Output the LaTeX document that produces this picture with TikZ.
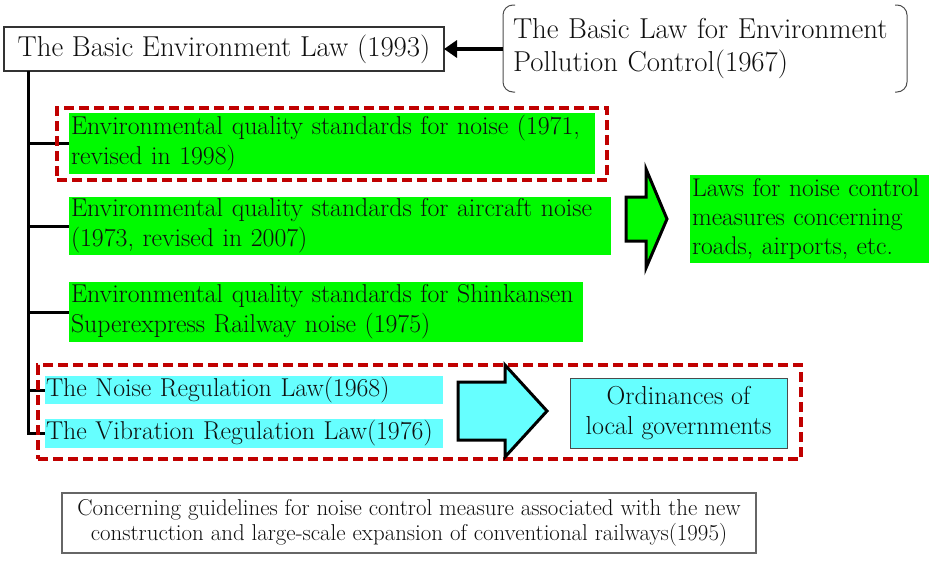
\documentclass[tikz,border=0pt]{standalone}
\usepackage{fontspec}
\usetikzlibrary{calc,arrows.meta}
\definecolor{grn}{RGB}{0,250,0}
\definecolor{cyn}{RGB}{102,255,255}
\definecolor{rdd}{RGB}{192,0,0}
\definecolor{txt}{RGB}{15,15,15}
\newcommand{\bigfont}{\fontsize{28.8}{33}\selectfont}
\newcommand{\midfont}{\fontsize{25.8}{30}\selectfont}
\begin{document}
\begin{tikzpicture}[x=1pt,y=-1pt,
  every node/.style={text=txt, inner sep=0pt, outer sep=0pt},
  gbox/.style={fill=grn, anchor=north west, align=left, inner xsep=2pt, font=\midfont},
  cbox/.style={fill=cyn, anchor=north west, align=left, inner xsep=1pt, font=\midfont},
  conn/.style={line width=3pt, black},
  reddash/.style={draw=rdd, line width=4pt, dash pattern=on 10pt off 5pt, anchor=north west},
  blockarrow/.style={draw=black, line width=3pt, line join=miter},
  bracket/.style={draw=black!70, line width=1pt, rounded corners=10pt}
]
\useasboundingbox (0,0) rectangle (929,560);

% top box
\node[draw=black!80, line width=1.2pt, anchor=north west, minimum width=440pt,
      minimum height=44pt, font=\bigfont] (top) at (4,27) {The Basic Environment Law (1993)};

% bracket box
\node[anchor=north west, minimum width=404pt, minimum height=87pt, text width=384pt,
      inner xsep=10pt, align=left, font=\bigfont] (br) at (503,5)
      {The Basic Law for Environment\\Pollution Control(1967)};
\draw[bracket] ($(br.north west)+(12,0)$) -- (br.north west) -- (br.south west) -- ++(12,0);
\draw[bracket] ($(br.north east)+(-12,0)$) -- (br.north east) -- (br.south east) -- ++(-12,0);

\draw[line width=3.5pt, -{Triangle[length=13pt,width=17pt]}] (br.west |- top.east) -- (top.east);

% green boxes
\node[gbox, text width=522pt, minimum height=61pt] (g1) at (69,113)
  {Environmental quality standards for noise (1971,\\revised in 1998)};
\node[gbox, text width=538pt, minimum height=58pt] (g2) at (69,197)
  {Environmental quality standards for aircraft noise\\(1973, revised in 2007)};
\node[gbox, text width=510pt, minimum height=60pt] (g3) at (69,282)
  {Environmental quality standards for Shinkansen\\Superexpress Railway noise (1975)};
\node[gbox, text width=235pt, minimum height=88pt, font=\fontsize{25.6}{29}\selectfont] (laws) at (690,175)
  {Laws for noise control\\measures concerning\\roads, airports, etc.};

% cyan boxes
\node[cbox, text width=396pt, minimum height=28pt] (cy1) at (45,376) {The Noise Regulation Law(1968)};
\node[cbox, text width=396pt, minimum height=29pt] (cy2) at (45,419) {The Vibration Regulation Law(1976)};
\node[fill=cyn, draw=black!70, line width=1pt, anchor=north west, minimum width=217pt,
      minimum height=70pt, align=center, font=\fontsize{26}{30}\selectfont] (ord) at (570,378)
      {Ordinances of\\local governments};

% connectors
\coordinate (trunk) at ($(top.south west)+(24,0)$);
\draw[conn] (trunk) |- (cy2.west);
\foreach \n in {g1,g2,g3,cy1} \draw[conn] (trunk |- \n.west) -- (\n.west);

% red dashed groups
\node[reddash, minimum width=550pt, minimum height=72pt] (rd1) at (57,108) {};
\node[reddash, minimum width=763pt, minimum height=94pt] (rd2) at (38,365) {};

% block arrows
\filldraw[blockarrow, fill=grn] (626,197) -- (646,197) -- (646,169) -- (667,219)
  -- (646,268) -- (646,241) -- (626,241) -- cycle;
\filldraw[blockarrow, fill=cyn] (458,382) -- (505,382) -- (505,365) -- (547,411)
  -- (505,457) -- (505,440) -- (458,440) -- cycle;

% bottom box
\node[draw=black!60, line width=1.5pt, anchor=north west, minimum width=694pt,
      minimum height=60pt, align=center, font=\fontsize{22.9}{25}\selectfont] (bot) at (62,493)
  {Concerning guidelines for noise control measure associated with the new\\construction and large-scale expansion of conventional railways(1995)};
\end{tikzpicture}
\end{document}
